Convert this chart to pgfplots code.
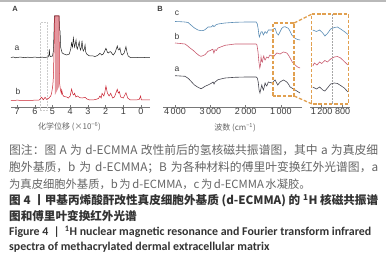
\documentclass[border=0pt]{standalone}
\usepackage{pgfplots}
\pgfplotsset{compat=1.18}
\usepackage{fontspec}
\setmainfont{Liberation Sans}
\newfontfamily\cjk{Noto Sans CJK SC}
\newfontfamily\carlito{Carlito}
\newcommand\s{\hskip 0.14em plus 0.5pt\relax}
\definecolor{axgray}{RGB}{120,120,120}
\definecolor{lblgray}{RGB}{60,60,60}
\definecolor{capgray}{RGB}{100,100,100}
\definecolor{titgray}{RGB}{50,50,50}
\definecolor{nmra}{RGB}{30,30,30}
\definecolor{nmrb}{RGB}{200,30,45}
\definecolor{nmrfill}{RGB}{228,150,158}
\definecolor{irc}{RGB}{90,140,180}
\definecolor{irb}{RGB}{200,90,110}
\definecolor{ira}{RGB}{70,70,80}
\definecolor{boxor}{RGB}{225,160,80}
\newcommand\tickfont{\fontsize{9bp}{10bp}\selectfont}
\pgfplotsset{
  myaxis/.style={
    anchor=south west, scale only axis,
    axis x line=bottom, axis y line=none,
    axis line style={-, draw=axgray, line width=0.5bp},
    x axis line style={-},
    tick align=inside, major tick length=2bp,
    tick style={draw=axgray, line width=0.5bp},
    xticklabel style={font=\tickfont, text=lblgray, inner sep=1bp},
    x dir=reverse, clip=false,
  }
}
\begin{document}
\begin{tikzpicture}
\path[use as bounding box] (0,0) rectangle (386bp,259bp);
\fill[gray!55] (0,257bp) rectangle (386bp,259bp);

% ---------------- Panel A: 1H NMR ----------------
\begin{axis}[myaxis, at={(11bp,152bp)}, width=139bp, height=91bp,
  xmin=-0.51, xmax=7.345, ymin=0, ymax=91,
  xtick={0,1,2,3,4,5,6,7}, xticklabels={0,1,2,3,4,5,6,7}]
\addplot[gray!40, densely dotted, line width=0.5bp] coordinates {(5.7,-3) (5.7,84.5) (5.27,84.5) (5.27,-3) (5.7,-3)};
\addplot[fill=nmrfill, draw=none] coordinates {(4.86,12) (4.86,91) (4.64,91) (4.64,20) (4.86,12)};
\addplot[nmra, line width=0.5bp] coordinates {
(7.35,49.5) (7.2,50) (7.1,49.2) (7.0,49.6) (6.8,49.9) (6.6,49.4) (6.4,49.8) (6.2,49.5) (6.0,49.9)
(5.8,49.5) (5.6,49.8) (5.4,49.6) (5.25,50) (5.2,52) (5.18,57.7) (5.15,51) (5.1,50.5) (5.0,51)
(4.95,56) (4.92,72) (4.89,91) (4.63,91) (4.6,77) (4.57,76) (4.54,60) (4.5,57) (4.45,54) (4.35,53)
(4.2,52) (4.05,53) (3.97,58) (3.92,64) (3.87,60) (3.82,69) (3.78,63) (3.75,60) (3.7,64) (3.67,67)
(3.63,60) (3.6,58) (3.55,61) (3.49,65.3) (3.45,59) (3.41,57) (3.37,60) (3.33,66.3) (3.29,58)
(3.26,56) (3.2,58) (3.16,62) (3.12,55) (3.07,53) (2.95,51.5) (2.88,51) (2.7,51) (2.6,50.5)
(2.45,51.5) (2.32,53.7) (2.22,52) (2.13,53) (2.05,56) (1.98,58.7) (1.9,55) (1.85,54) (1.78,55)
(1.71,55.3) (1.62,53) (1.56,52) (1.45,55) (1.34,61) (1.28,57) (1.24,57) (1.19,59) (1.12,53)
(1.05,52) (0.95,54) (0.85,60.3) (0.78,54) (0.72,51) (0.6,49.5) (0.45,49.3) (0.2,49.5) (0,49.3)
(-0.2,49.5) (-0.5,49.3)};
\addplot[nmrb, line width=0.5bp] coordinates {
(7.35,6.5) (7.0,6.8) (6.5,6.5) (6.0,6.8) (5.75,7) (5.61,9.7) (5.52,7.2) (5.42,9.7) (5.33,7.5)
(5.2,9) (5.1,11) (5.05,13.7) (4.98,22) (4.95,30.3) (4.9,64) (4.87,91) (4.63,91) (4.6,24)
(4.55,17) (4.5,13.5) (4.48,17) (4.42,12) (4.35,10.5) (4.2,10) (4.1,9) (4.0,11) (3.92,18)
(3.85,13) (3.8,12) (3.75,13.7) (3.68,10) (3.6,11) (3.55,10.5) (3.45,9.3) (3.3,9) (3.16,9.7)
(3.05,8) (2.9,7) (2.6,7.3) (2.4,8.5) (2.32,11) (2.25,9) (2.2,13.7) (2.1,11) (2.05,14) (1.98,21)
(1.9,14) (1.8,11) (1.71,13.7) (1.6,9) (1.5,10) (1.34,17.7) (1.28,14) (1.22,15.3) (1.15,10)
(1.0,9) (0.85,14.3) (0.75,9) (0.6,7) (0.3,7) (0.1,7.5) (0.02,11) (-0.02,7) (-0.2,7) (-0.5,7)};
\end{axis}

% ---------------- Panel B: FTIR main ----------------
\begin{axis}[myaxis, at={(163bp,152bp)}, width=139bp, height=95bp,
  xmin=405, xmax=4340, ymin=0, ymax=95,
  xtick={1000,2000,3000,4000}, xticklabels={1\,000,2\,000,3\,000,4\,000}]
\addplot[irc, line width=0.6bp] coordinates {
(4000,85.5) (3850,85.3) (3720,85) (3630,84.5) (3550,82) (3450,79) (3350,77) (3263,76.3) (3200,76.5)
(3150,77.3) (3065,80) (3000,80) (2960,80.3) (2930,81.7) (2900,80.5) (2870,81) (2850,82) (2782,83)
(2583,84) (2300,84.7) (2000,85) (1760,85) (1700,85) (1670,83) (1645,78) (1625,72) (1610,70)
(1585,73) (1564,75) (1535,75.3) (1498,72) (1450,75.3) (1402,73.7) (1357,77) (1300,77) (1260,77)
(1210,78) (1167,78.7) (1119,73.7) (1073,72) (1025,75.3) (977,78.7) (930,80) (884,80.3) (840,79.5)
(790,78.7) (740,75.5) (694,72) (600,68.7) (530,67.5) (460,67)};
\addplot[irb, line width=0.6bp] coordinates {
(4000,64) (3850,63.5) (3717,63) (3640,61) (3575,59) (3480,56.5) (3405,54) (3320,51.5) (3263,50.7)
(3200,51.5) (3150,52.3) (3065,55.7) (3000,56.5) (2960,57.3) (2930,57.8) (2900,54) (2867,57.3)
(2830,56.5) (2782,59) (2583,61.7) (2300,63) (2000,63) (1705,63) (1680,62) (1650,55) (1625,45)
(1600,39) (1580,42) (1564,50) (1545,46) (1527,45) (1505,49) (1487,51) (1465,48) (1450,47)
(1420,49) (1402,50) (1380,49.5) (1357,49) (1330,51) (1309,52) (1260,51) (1215,50) (1170,52)
(1119,54) (1070,53.5) (1025,53) (980,54) (932,55) (880,54.5) (837,54) (790,52) (742,49) (680,45)
(600,42) (530,40) (460,39)};
\addplot[ira, line width=0.6bp] coordinates {
(4000,31.3) (3850,31) (3717,30.7) (3620,28.5) (3547,25.7) (3450,22) (3348,19.7) (3263,18.3)
(3200,19.5) (3150,20.7) (3065,22) (3008,23) (2960,24) (2923,25) (2895,23) (2867,25) (2782,27.3)
(2583,29) (2300,29.7) (2000,30) (1705,30) (1670,29) (1645,25) (1620,17) (1595,14) (1570,18)
(1544,22) (1520,19) (1498,17) (1475,20) (1450,24) (1425,22) (1402,21) (1380,23) (1357,25)
(1310,24.5) (1260,24) (1210,25.5) (1167,27) (1130,24.5) (1091,22) (1060,23.5) (1025,25) (980,26)
(932,27) (880,26) (837,25) (790,23) (742,20) (670,18.5) (600,17) (530,15.5) (460,14)};
% zoom frame and connectors
\addplot[boxor, line width=1.3bp, dash pattern=on 3.5bp off 1.8bp] coordinates {(1224,11) (1224,84) (629,84) (629,11) (1224,11)};
\addplot[boxor, line width=1.3bp, dash pattern=on 3.5bp off 1.8bp] coordinates {(629,84) (119,93)};
\addplot[boxor, line width=1.3bp, dash pattern=on 3.5bp off 1.8bp] coordinates {(629,11) (119,3)};
\end{axis}

% ---------------- Panel B: FTIR zoom ----------------
\begin{axis}[myaxis, at={(310bp,152bp)}, width=40bp, height=95bp,
  xmin=661, xmax=1423, ymin=0, ymax=95,
  xtick={800,1200}, xticklabels={800,1\,200}]
\addplot[gray!70, densely dotted, line width=0.5bp] coordinates {(990,3) (990,93)};
\addplot[irc, line width=0.6bp] coordinates {
(1370,77) (1300,75.5) (1240,77) (1180,74) (1140,71) (1090,73.5) (1030,78) (960,79.5) (900,80)
(840,78) (770,75.5) (700,72.5)};
\addplot[irb, line width=0.6bp] coordinates {
(1370,41) (1340,44) (1290,42) (1240,45) (1200,43.5) (1140,46.5) (1090,45) (1030,48) (960,50)
(900,50.5) (840,49) (770,45.5) (700,42)};
\addplot[ira, line width=0.6bp] coordinates {
(1370,20) (1300,18) (1240,20) (1180,17) (1140,16) (1090,19) (1030,23) (960,24) (900,23.5)
(840,21.5) (770,19) (700,15)};
\addplot[boxor, line width=1.3bp, dash pattern=on 3.5bp off 1.8bp] coordinates {(1390,3) (1390,93) (686,93) (686,3) (1390,3)};
\end{axis}

% ---------------- labels ----------------
\node[font=\fontsize{7.5bp}{8bp}\selectfont\bfseries, text=lblgray] at (15bp,250bp) {A};
\node[font=\fontsize{7.5bp}{8bp}\selectfont\bfseries, text=lblgray] at (160bp,250bp) {B};
\node[font=\fontsize{8.5bp}{9bp}\selectfont, text=lblgray] at (17bp,211bp) {a};
\node[font=\fontsize{8.5bp}{9bp}\selectfont, text=lblgray] at (18bp,168bp) {b};
\node[font=\fontsize{8.5bp}{9bp}\selectfont, text=lblgray] at (177bp,246bp) {c};
\node[font=\fontsize{8.5bp}{9bp}\selectfont, text=lblgray] at (177bp,223bp) {b};
\node[font=\fontsize{8.5bp}{9bp}\selectfont, text=lblgray] at (177bp,190bp) {a};
\node[font=\cjk\fontsize{8bp}{9bp}\selectfont, text=capgray] at (69.5bp,132bp) {化学位移 (×10\textsuperscript{−6})};
\node[font=\cjk\fontsize{8bp}{9bp}\selectfont, text=capgray] at (235bp,131bp) {波数 (cm\textsuperscript{−1})};

% ---------------- caption ----------------
\begin{scope}[every node/.style={anchor=west, inner sep=0pt}]
\node[font=\cjk\fontsize{11.8bp}{13bp}\selectfont, text=capgray] at (9bp,109bp) {\makebox[369bp][s]{图注：图 A 为 d-ECMMA 改性前后的氢核磁共振谱图，其中 a 为真皮细}};
\node[font=\cjk\fontsize{11.8bp}{13bp}\selectfont, text=capgray] at (9bp,92bp) {\makebox[369bp][s]{胞外基质，b 为 d-ECMMA；B 为各种材料的傅里叶变换红外光谱图，a}};
\node[font=\cjk\fontsize{11.3bp}{13bp}\selectfont, text=capgray] at (9bp,75bp) {为真皮细胞外基质，b\s 为\s d-ECMMA，c\s 为\s d-ECMMA\s 水凝胶。};
\node[font=\cjk\fontsize{11.6bp}{13bp}\selectfont\bfseries, text=titgray] at (9bp,58bp) {\makebox[369bp][s]{图\s 4\s 丨甲基丙烯酸酐改性真皮细胞外基质\s (d-ECMMA)\s 的\s \textsuperscript{1}H\s 核磁共振谱}};
\node[font=\cjk\fontsize{11.6bp}{13bp}\selectfont\bfseries, text=titgray] at (9bp,43bp) {图和傅里叶变换红外光谱};
\node[font=\carlito\fontsize{11.9bp}{13bp}\selectfont\bfseries, text=titgray] at (9bp,27bp) {Figure 4 \ | \ \textsuperscript{1}H nuclear magnetic resonance and Fourier transform infrared};
\node[font=\carlito\fontsize{11.9bp}{13bp}\selectfont\bfseries, text=titgray] at (9bp,12bp) {spectra of methacrylated dermal extracellular matrix};
\end{scope}
\end{tikzpicture}
\end{document}
